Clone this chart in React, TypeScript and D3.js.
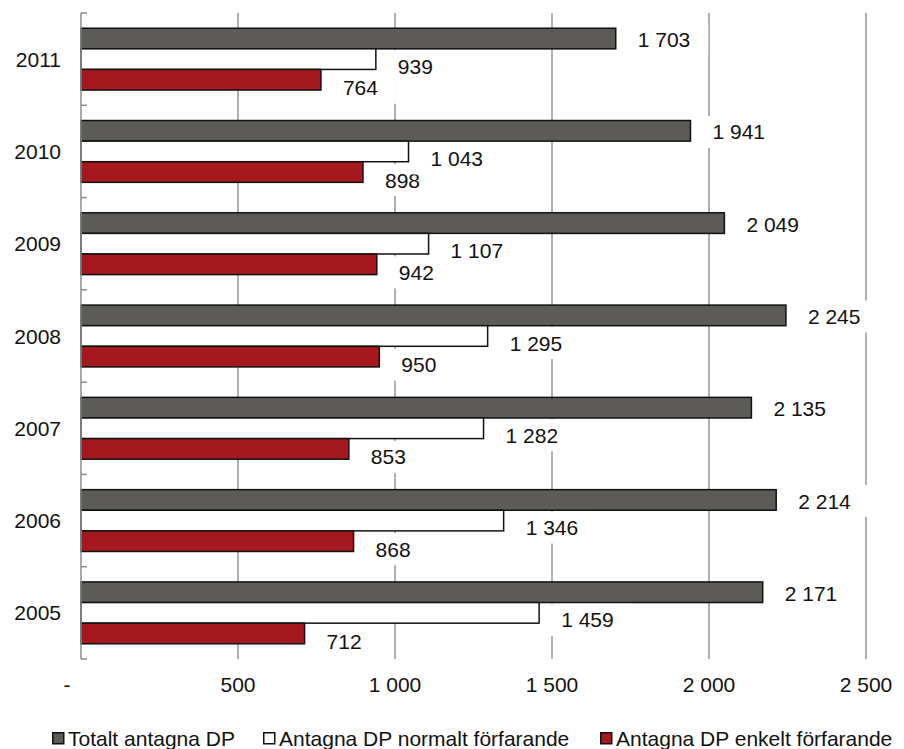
import React from "react";
import * as d3 from "d3";

const years = ["2011", "2010", "2009", "2008", "2007", "2006", "2005"];
const totalt = [1703, 1941, 2049, 2245, 2135, 2214, 2171];
const normalt = [939, 1043, 1107, 1295, 1282, 1346, 1459];
const enkelt = [764, 898, 942, 950, 853, 868, 712];
const seriesNames = ["Totalt antagna DP", "Antagna DP normalt förfarande", "Antagna DP enkelt förfarande"];
const xTicks = [0, 500, 1000, 1500, 2000, 2500];
const xTickLabels = ["-", "500", "1 000", "1 500", "2 000", "2 500"];

const W = 904;
const H = 749;
const FONT = "'Liberation Sans', Arial, sans-serif";
const FS = 21;

const colors = ["#5c5b57", "#ffffff", "#a5191e"];
const labelDy = [1, 7, 8];
const fmt = (v: number) => {
  const s = String(v);
  return s.length > 3 ? s.slice(0, s.length - 3) + " " + s.slice(-3) : s;
};

function textWidth(t: string) {
  // approximate Arial advance widths
  let w = 0;
  for (const ch of t) w += ch === " " ? 0.278 : 0.556;
  return w * FS;
}

export default function App() {
  const x = d3.scaleLinear().domain([0, 2500]).range([81, 866]);
  const y = d3.scaleBand<string>().domain(years).range([13, 659]).paddingInner(0.33).paddingOuter(0.165);
  const step = y.step();
  const sub = d3.scaleBand<number>().domain([0, 1, 2]).range([0, y.bandwidth()]);
  const series = [totalt, normalt, enkelt];
  const boundaries = d3.range(years.length + 1).map((i) => 13 + i * ((659 - 13) / years.length));

  const labelOrder = [2, 1, 0];
  const legendX = [52, 263, 600];

  return (
    <svg width={W} height={H} style={{ position: "absolute", left: 0, top: 0, background: "#fff" }} fontFamily={FONT}>
      {/* gridlines */}
      {xTicks.slice(1).map((t) => (
        <line key={t} x1={x(t)} x2={x(t)} y1={13} y2={659} stroke="#969696" strokeWidth={1.5} />
      ))}
      {/* bars */}
      {series.map((vals, si) =>
        years.map((yr, i) => (
          <rect
            key={si + "-" + yr}
            x={x(0)}
            y={(y(yr) as number) + (sub(si) as number)}
            width={x(vals[i]) - x(0)}
            height={sub.bandwidth()}
            fill={colors[si]}
            stroke="#111"
            strokeWidth={1.5}
          />
        ))
      )}
      {/* labels */}
      {labelOrder.map((si) =>
        years.map((yr, i) => {
          const v = series[si][i];
          const t = fmt(v);
          const xe = x(v);
          const cy = (y(yr) as number) + (sub(si) as number) + sub.bandwidth() / 2 + labelDy[si];
          const tw = textWidth(t);
          return (
            <g key={"l" + si + yr}>
              <rect x={xe + 4} y={cy - 16} width={tw + 36} height={32} fill="#fff" />
              <text x={xe + 22} y={cy} dy="0.36em" fontSize={FS} fill="#111">
                {t}
              </text>
            </g>
          );
        })
      )}
      {/* left axis */}
      <line x1={81} x2={81} y1={13} y2={659} stroke="#8c8c8c" strokeWidth={1.5} />
      {boundaries.map((b, i) => (
        <line key={"tb" + i} x1={81} x2={87} y1={b} y2={b} stroke="#8c8c8c" strokeWidth={1.5} />
      ))}
      {years.map((yr) => (
        <text key={"yl" + yr} x={61} y={(y(yr) as number) + y.bandwidth() / 2} dy="0.36em" textAnchor="end" fontSize={FS} fill="#111">
          {yr}
        </text>
      ))}
      {/* x tick labels */}
      {xTicks.map((t, i) => (
        <text key={"xl" + t} x={t === 0 ? x(t) - 14 : x(t)} y={692} textAnchor="middle" fontSize={FS} fill="#111">
          {xTickLabels[i]}
        </text>
      ))}
      {/* legend */}
      {seriesNames.map((n, i) => (
        <g key={"lg" + i}>
          <rect x={legendX[i] + 0.75} y={732.75} width={11} height={11} fill={colors[i]} stroke="#111" strokeWidth={1.5} />
          <text x={legendX[i] + 16} y={746} fontSize={FS} fill="#111">
            {n}
          </text>
        </g>
      ))}
    </svg>
  );
}
